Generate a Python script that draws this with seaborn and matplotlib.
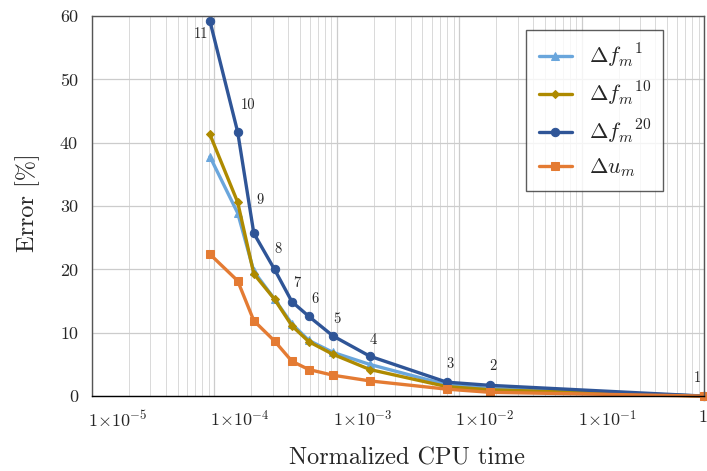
import numpy as np
import pandas as pd
import matplotlib
import matplotlib.pyplot as plt
from matplotlib.transforms import ScaledTranslation
import seaborn as sns

# normalized CPU time for each point (11 -> 1)
cpu_time = [9.2e-5, 1.55e-4, 2.1e-4, 3.1e-4, 4.3e-4, 5.9e-4, 9.3e-4, 1.86e-3, 7.9e-3, 1.78e-2, 1.0]
point_ids = ['11', '10', '9', '8', '7', '6', '5', '4', '3', '2', '1']

df_m1 = [37.8, 28.9, 19.7, 15.3, 11.4, 8.8, 6.9, 5.0, 1.8, 1.2, 0.0]
df_m10 = [41.3, 30.6, 19.3, 15.3, 11.1, 8.6, 6.6, 4.2, 1.5, 1.0, 0.0]
df_m20 = [59.2, 41.7, 25.7, 20.0, 14.9, 12.6, 9.5, 6.3, 2.2, 1.7, 0.0]
du_m = [22.4, 18.2, 11.9, 8.7, 5.5, 4.2, 3.3, 2.4, 1.1, 0.6, 0.0]

xtick_vals = [1e-5, 1e-4, 1e-3, 1e-2, 1e-1, 1]
xtick_labels = [r'$1{\times}10^{-5}$', r'$1{\times}10^{-4}$', r'$1{\times}10^{-3}$',
                r'$1{\times}10^{-2}$', r'$1{\times}10^{-1}$', r'$1$']

# label offsets (pixels) of the point numbers relative to the dark blue markers
label_dx = [-9, 10, 6, 3, 5, 6, 4, 3, 3, 3, -7]
label_dy = [-13, 27, 33, 20, 19, 17, 17, 16, 18, 19, 18]

sns.set_style('white')
plt.rcParams['font.family'] = ['cmr10', 'DejaVu Serif']
plt.rcParams['mathtext.fontset'] = 'cm'
plt.rcParams['axes.formatter.use_mathtext'] = True

fig = plt.figure(figsize=(7.07, 4.71), dpi=100)
ax = fig.add_axes([0.130, 0.159, 0.866, 0.807])

series = [
    (df_m1, r'$\Delta f_m{}^{1}$', '#6aa6dc', '^', 6),
    (df_m10, r'$\Delta f_m{}^{10}$', '#ae8a00', 'D', 4),
    (df_m20, r'$\Delta f_m{}^{20}$', '#2f5597', 'o', 6),
    (du_m, r'$\Delta u_m$', '#e47b33', 's', 6),
]
for vals, lab, col, mk, ms in series:
    sns.lineplot(x=cpu_time, y=vals, ax=ax, color=col, marker=mk, markersize=ms,
                 markeredgecolor=col, linewidth=2.4, label=lab, sort=False, clip_on=False)

ax.set_xscale('log')
ax.set_xlim(1e-5, 1)
ax.set_ylim(0, 60)
ax.set_xticks(xtick_vals)
ax.set_xticklabels(xtick_labels, fontsize=13)
ax.set_yticks([0, 10, 20, 30, 40, 50, 60])
ax.set_yticklabels(['0', '10', '20', '30', '40', '50', '60'], fontsize=13)
ax.xaxis.set_minor_locator(matplotlib.ticker.LogLocator(base=10, subs=np.arange(2, 10)))
ax.xaxis.set_minor_formatter(matplotlib.ticker.NullFormatter())
ax.grid(True, which='major', color='#cccccc', linewidth=0.9)
ax.grid(True, which='minor', axis='x', color='#d9d9d9', linewidth=0.7)
ax.tick_params(axis='x', which='major', direction='out', length=4, width=0.9, pad=5, color='black')
ax.tick_params(axis='x', which='minor', length=0)
ax.tick_params(axis='y', direction='out', length=4, width=0.9, pad=6, color='#555555')
for s in ax.spines.values():
    s.set_color('#555555')
    s.set_linewidth(1.0)
ax.spines['bottom'].set_color('black')

# tick labels start just left of their tick
for i, tl in enumerate(ax.get_xticklabels()):
    tl.set_horizontalalignment('left')
    shift = -6 if i == len(xtick_vals) - 1 else -4
    tl.set_transform(tl.get_transform() + ScaledTranslation(shift / 100, 0, fig.dpi_scale_trans))

ax.set_xlabel('Normalized CPU time', fontsize=17.5)
ax.set_ylabel('Error [%]', fontsize=17.5)
ax.xaxis.set_label_coords((407 - 92) / 612, -(447 - 396) / 380)
ax.yaxis.set_label_coords(-(92 - 40) / 612, (396 - 203) / 380)

# point numbers next to the dark blue curve
for xv, yv, pid, dx, dy in zip(cpu_time, df_m20, point_ids, label_dx, label_dy):
    ax.annotate(pid, (xv, yv), xytext=(dx, dy), textcoords='offset pixels',
                ha='center', va='center', fontsize=10.5)

leg = ax.legend(loc='upper right', bbox_to_anchor=(0.933, 0.963), borderaxespad=0,
                fontsize=16, frameon=True, fancybox=False, edgecolor='#333333',
                handlelength=1.5, handletextpad=0.75, borderpad=0.55, labelspacing=0.45)
leg.get_frame().set_linewidth(1.0)

fig.savefig('out.png', dpi=100)
